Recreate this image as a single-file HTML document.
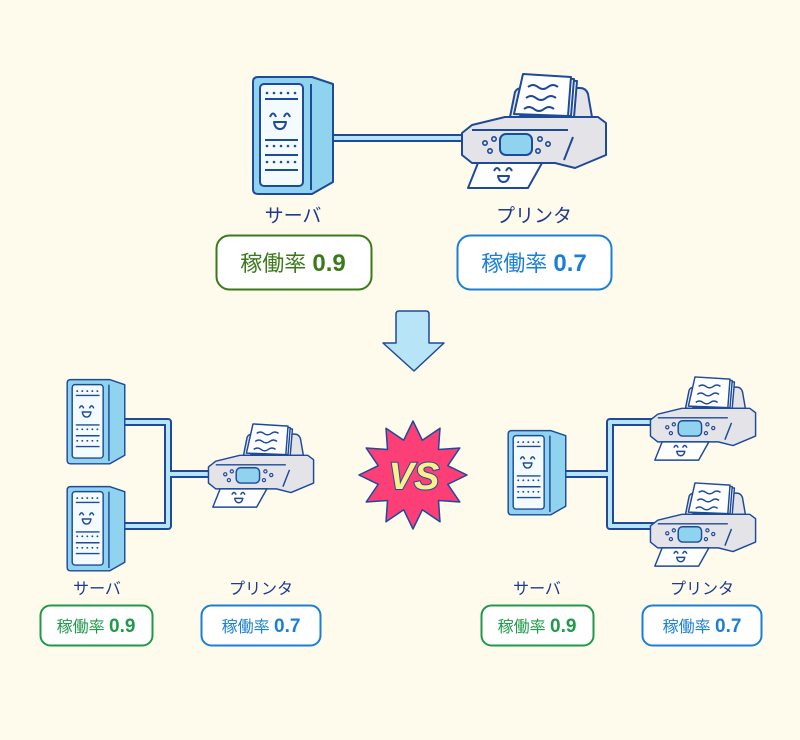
<!DOCTYPE html>
<html><head><meta charset="utf-8"><style>
html,body{margin:0;padding:0;background:#fefbec;}
svg{display:block}
.lbl{font-family:"Liberation Sans","Noto Sans CJK JP",sans-serif;fill:#1e3a8a;}
.cj{font-family:"Liberation Sans","Noto Sans CJK JP",sans-serif;}
.num{font-family:"Liberation Sans","Noto Sans CJK JP",sans-serif;font-weight:bold;}
</style></head><body>
<svg width="800" height="740" viewBox="0 0 800 740" xmlns="http://www.w3.org/2000/svg">
<defs>
<g id="srv" stroke="#1e4a9a" stroke-width="2" stroke-linejoin="round">
  <path d="M8,5 L62,5 L83,12 L83,110 L62,122 L8,122 Q3,122 3,117 L3,10 Q3,5 8,5 Z" fill="#8fd3ef"/>
  <line x1="61" y1="12" x2="61" y2="118"/>
  <rect x="10" y="12" width="43" height="102" rx="4" fill="#f4fbff"/>
  <g fill="#1e4a9a" stroke="none">
    <circle cx="17" cy="21" r="1.3"/><circle cx="24" cy="21" r="1.3"/><circle cx="31" cy="21" r="1.3"/><circle cx="38" cy="21" r="1.3"/><circle cx="45" cy="21" r="1.3"/>
    <circle cx="17" cy="74" r="1.3"/><circle cx="24" cy="74" r="1.3"/><circle cx="31" cy="74" r="1.3"/><circle cx="38" cy="74" r="1.3"/><circle cx="45" cy="74" r="1.3"/>
    <circle cx="17" cy="90" r="1.3"/><circle cx="24" cy="90" r="1.3"/><circle cx="31" cy="90" r="1.3"/><circle cx="38" cy="90" r="1.3"/><circle cx="45" cy="90" r="1.3"/>
  </g>
  <line x1="15" y1="27" x2="48" y2="27"/>
  <line x1="15" y1="68" x2="48" y2="68"/>
  <line x1="15" y1="83" x2="48" y2="83"/>
  <line x1="15" y1="98" x2="48" y2="98"/>
  <path d="M20,45 Q23,38 26,45 M34,45 Q37,38 40,45" fill="none"/>
  <path d="M24,50 L36,50 Q35,57 30,57 Q25,57 24,50 Z" fill="#f4fbff"/>
</g>
<g id="prn" stroke="#1e4a9a" stroke-width="2" stroke-linejoin="round">
  <path d="M50,47 L55,22 Q57,18 62,18 L120,18 Q126,18 128,24 L132,47 Z" fill="#e4e4e8"/>
  <polygon points="69,8 117,11 114,47 60,45" fill="#fff"/>
  <polygon points="66,6 114,9 111,46 57,44" fill="#fff"/>
  <polygon points="63,4 111,7 108,46 54,44" fill="#fff"/>
  <path d="M68,17 q5,-4 10,0 t10,0 t10,0 M66,28 q5,-4 10,0 t10,0 t10,0 M64,39 q5,-4 10,0 t10,0 t10,0" fill="none"/>
  <polygon points="2,63 12,55 45,47 138,47 146,53 146,85 115,98 95,93 12,93 2,85" fill="#e4e4e8"/>
  <line x1="12" y1="60" x2="108" y2="60"/>
  <line x1="113" y1="67" x2="104" y2="90"/>
  <rect x="40" y="64" width="32" height="21" rx="6" fill="#8fd3ef"/>
  <g fill="none" stroke-width="1.6">
    <circle cx="25" cy="73" r="2.2"/><circle cx="34" cy="69" r="2.2"/><circle cx="30" cy="81" r="2.2"/>
    <circle cx="80" cy="69" r="2.2"/><circle cx="88" cy="74" r="2.2"/><circle cx="78" cy="81" r="2.2"/>
  </g>
  <polygon points="18,93 82,93 68,118 8,118" fill="#fff"/>
  <path d="M34,101 Q37,95 40,101 M46,101 Q49,95 52,101" fill="none"/>
  <path d="M38,106 L49,106 Q48,112 43.5,112 Q39,112 38,106 Z" fill="#fff"/>
</g>
</defs>

<g fill="none" stroke-linecap="butt">
<path d="M333,138 L470,138" stroke="#1e4a9a" stroke-width="8"/>
<path d="M333,138 L470,138" stroke="#b7e4f6" stroke-width="4"/>
<path d="M125,422 L168,422 L168,526 L125,526 M168,474 L215,474" stroke="#1e4a9a" stroke-width="8" stroke-linejoin="round"/>
<path d="M125,422 L168,422 L168,526 L125,526 M168,474 L215,474" stroke="#b7e4f6" stroke-width="4" stroke-linejoin="round"/>
<path d="M566,474 L610,474 M655,422 L610,422 L610,526 L655,526" stroke="#1e4a9a" stroke-width="8" stroke-linejoin="round"/>
<path d="M566,474 L610,474 M655,422 L610,422 L610,526 L655,526" stroke="#b7e4f6" stroke-width="4" stroke-linejoin="round"/>
</g>

<use href="#srv" transform="translate(250,72)"/>
<use href="#prn" transform="translate(460,70)"/>

<use href="#srv" transform="translate(65,376) scale(0.72)"/>
<use href="#srv" transform="translate(65,483) scale(0.72)"/>
<use href="#prn" transform="translate(207,421) scale(0.73)"/>
<use href="#srv" transform="translate(506,427) scale(0.72)"/>
<use href="#prn" transform="translate(649,374) scale(0.73)"/>
<use href="#prn" transform="translate(649,480) scale(0.73)"/>

<text class="lbl" x="293" y="222" font-size="19" text-anchor="middle">サーバ</text>
<text class="lbl" x="534" y="222" font-size="19" text-anchor="middle">プリンタ</text>
<rect x="216.5" y="235.5" width="155" height="54" rx="13" fill="#fff" stroke="#3a7a1a" stroke-width="2"/>
<text x="293" y="271" text-anchor="middle" fill="#3a7a1a"><tspan class="cj" font-size="22">稼働率 </tspan><tspan class="num" font-size="24">0.9</tspan></text>
<rect x="457.5" y="235.5" width="154" height="54" rx="13" fill="#fff" stroke="#1a7fd6" stroke-width="2"/>
<text x="534" y="271" text-anchor="middle" fill="#1a7fd6"><tspan class="cj" font-size="22">稼働率 </tspan><tspan class="num" font-size="24">0.7</tspan></text>

<path d="M399,311 L426,311 Q429,311 429,314 L429,343 L444,343 L414,371 L383,343 L396,343 L396,314 Q396,311 399,311 Z" fill="#b7e4f6" stroke="#1e4a9a" stroke-width="1.5" stroke-linejoin="round"/>

<polygon points="413,421 422.3,440.2 440,428.2 438.5,449.5 459.8,448 447.8,465.7 467,475 447.8,484.3 459.8,502 438.5,500.5 440,521.8 422.3,509.8 413,529 403.7,509.8 386,521.8 387.5,500.5 366.2,502 378.2,484.3 359,475 378.2,465.7 366.2,448 387.5,449.5 386,428.2 403.7,440.2" fill="#fc3f76" stroke="#1e4a9a" stroke-width="1.5" stroke-linejoin="round"/>
<text x="414" y="489" text-anchor="middle" font-family="Liberation Sans, sans-serif" font-weight="bold" font-style="italic" font-size="38" fill="#fbef8a" stroke="#1e4a9a" stroke-width="2" paint-order="stroke">VS</text>

<text class="lbl" x="97" y="594" font-size="16" text-anchor="middle">サーバ</text>
<text class="lbl" x="261" y="594" font-size="16" text-anchor="middle">プリンタ</text>
<text class="lbl" x="537" y="594" font-size="16" text-anchor="middle">サーバ</text>
<text class="lbl" x="702" y="594" font-size="16" text-anchor="middle">プリンタ</text>

<rect x="40.5" y="605.5" width="112" height="40" rx="10" fill="#fff" stroke="#1f9a4a" stroke-width="2"/>
<text x="96" y="632" text-anchor="middle" fill="#1f9a4a"><tspan class="cj" font-size="16">稼働率 </tspan><tspan class="num" font-size="19">0.9</tspan></text>
<rect x="201.5" y="605.5" width="119" height="40" rx="10" fill="#fff" stroke="#1a7fd6" stroke-width="2"/>
<text x="261" y="632" text-anchor="middle" fill="#1a7fd6"><tspan class="cj" font-size="16">稼働率 </tspan><tspan class="num" font-size="19">0.7</tspan></text>
<rect x="481.5" y="605.5" width="112" height="40" rx="10" fill="#fff" stroke="#1f9a4a" stroke-width="2"/>
<text x="537" y="632" text-anchor="middle" fill="#1f9a4a"><tspan class="cj" font-size="16">稼働率 </tspan><tspan class="num" font-size="19">0.9</tspan></text>
<rect x="642.5" y="605.5" width="119" height="40" rx="10" fill="#fff" stroke="#1a7fd6" stroke-width="2"/>
<text x="702" y="632" text-anchor="middle" fill="#1a7fd6"><tspan class="cj" font-size="16">稼働率 </tspan><tspan class="num" font-size="19">0.7</tspan></text>
</svg>
</body></html>
